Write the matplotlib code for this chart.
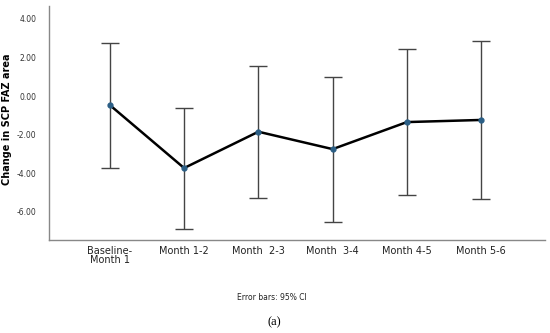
import matplotlib
matplotlib.use("Agg")
import matplotlib.pyplot as plt
import numpy as np

categories = ["Baseline-\nMonth 1", "Month 1-2", "Month  2-3", "Month  3-4", "Month 4-5", "Month 5-6"]
means = [-0.47, -3.73, -1.85, -2.75, -1.35, -1.24]
upper = [2.75, -0.62, 1.55, 0.98, 2.43, 2.85]
lower = [-3.75, -6.90, -5.28, -6.53, -5.13, -5.34]
yticks = [4, 2, 0, -2, -4, -6]

fig = plt.figure(figsize=(5.5, 3.33), dpi=100)
ax = fig.add_axes([0.089, 0.279, 0.902, 0.703])
x = np.arange(len(categories))
m = np.array(means)
yerr = np.vstack([m - np.array(lower), np.array(upper) - m])
ax.errorbar(x, m, yerr=yerr, fmt='none', ecolor='#444444', elinewidth=1.0, capsize=6.5, capthick=1.0, zorder=2)
ax.plot(x, m, color='black', lw=1.8, zorder=3)
ax.plot(x, m, 'o', color='#2b5f86', ms=3.5, zorder=4)

ax.set_xlim(-0.82, 5.86)
ax.set_ylim(-7.46, 4.66)
ax.set_yticks(yticks)
ax.set_yticklabels([f"{v:.2f}" for v in yticks], fontsize=5.5, color='#333333')
ax.set_xticks(x)
ax.set_xticklabels(categories, fontsize=7, color='#222222', linespacing=0.9)
ax.tick_params(axis='y', length=0, pad=9)
ax.tick_params(axis='x', length=0, pad=4)
for s in ['top', 'right']:
    ax.spines[s].set_visible(False)
for s in ['left', 'bottom']:
    ax.spines[s].set_color('#888888')
    ax.spines[s].set_linewidth(1.0)
ax.set_ylabel("Change in SCP FAZ area", fontsize=7, fontweight='bold')
ax.yaxis.set_label_coords(-0.0746, 0.515)

fig.text(0.495, 0.108, "Error bars: 95% CI", fontsize=5.5, ha='center', va='center', color='#222222')
fig.text(0.498, 0.032, "(a)", fontsize=9, ha='center', va='center', family='Liberation Serif')
fig.savefig("out.png", dpi=100)
